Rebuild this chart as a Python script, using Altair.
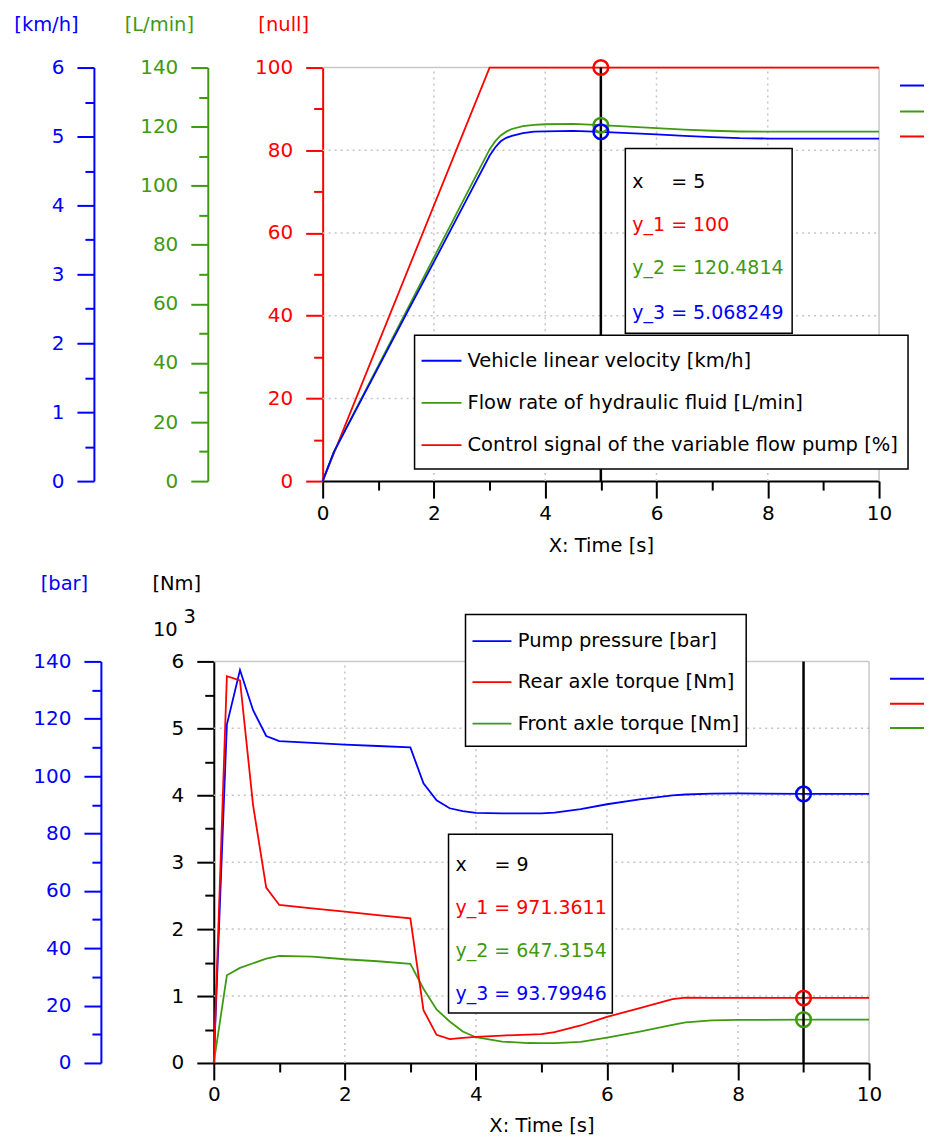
import altair as alt
import pandas as pd

F = "DejaVu Sans"
FS = 19.5      # titles and legend text
FS_TICK = 20   # tick labels
FS_TIP = 19    # readout boxes
BLUE = "#0000ff"
RED = "#ff0000"
GREEN = "#3f9a12"
GRIDC = "#c4c4c4"
FRAMEC = "#c8c8c8"

# ---------------- top panel data ----------------
t_ctrl = [0.0, 3.0, 10.0]
ctrl = [0.0, 100.0, 100.0]
t_top = [0.0, 0.2, 0.5, 1.0, 1.5, 2.0, 2.5, 3.0, 3.1, 3.2, 3.3, 3.4, 3.6, 3.8, 4.0,
         4.5, 5.0, 5.5, 6.0, 6.5, 7.0, 7.5, 8.0, 9.0, 10.0]
flow = [0.0, 9.8, 20.8, 39.1, 57.4, 75.7, 94.0, 112.3, 115.0, 117.0, 118.3, 119.2, 120.2,
        120.6, 120.8, 120.9, 120.48, 120.0, 119.5, 119.0, 118.6, 118.35, 118.3, 118.3, 118.3]
vel = [0.0, 0.42, 0.88, 1.65, 2.42, 3.18, 3.95, 4.72, 4.84, 4.93, 4.98, 5.01, 5.05,
       5.07, 5.075, 5.08, 5.068, 5.05, 5.03, 5.01, 4.99, 4.975, 4.97, 4.97, 4.97]
top_cursor = 5
top_readout = [100, 120.4814, 5.068249]  # y_1 ctrl, y_2 flow, y_3 velocity
top_legend = ["Vehicle linear velocity [km/h]",
              "Flow rate of hydraulic fluid [L/min]",
              "Control signal of the variable flow pump [%]"]

# ---------------- bottom panel data ----------------
t_bot = [0.0, 0.2, 0.4, 0.6, 0.8, 1.0, 1.5, 2.0, 2.5, 3.0, 3.2, 3.4, 3.6, 3.8, 4.0,
         4.4, 4.8, 5.0, 5.2, 5.6, 6.0, 6.5, 7.0, 7.2, 7.6, 8.0, 9.0, 10.0]
pressure = [0.0, 118.0, 137.0, 123.0, 114.0, 112.2, 111.6, 111.0, 110.5, 110.0, 97.5, 91.6,
            88.8, 87.8, 87.2, 87.0, 87.0, 87.0, 87.3, 88.5, 90.2, 91.9, 93.3, 93.6, 93.9,
            94.0, 93.8, 93.8]
rear = [0, 5780, 5716, 3850, 2620, 2360, 2310, 2260, 2210, 2160, 790, 420, 355, 375, 390,
        410, 425, 430, 460, 560, 690, 820, 955, 975, 972, 971.4, 971.4, 971.4]
front = [0, 1310, 1420, 1490, 1560, 1600, 1590, 1550, 1520, 1480, 1110, 800, 620, 470, 385,
         320, 298, 295, 297, 315, 380, 470, 570, 605, 635, 643, 647.3, 647.3]
bot_cursor = 9
bot_readout = [971.3611, 647.3154, 93.79946]  # y_1 rear, y_2 front, y_3 pressure
bot_legend = ["Pump pressure [bar]", "Rear axle torque [Nm]", "Front axle torque [Nm]"]

grid_x = [2, 4, 6, 8]
grid_y_top = [20, 40, 60, 80]
grid_y_bot = [1000, 2000, 3000, 4000, 5000]

ONE = pd.DataFrame({"k": [0]})


def grid_df(xs, ys, ymax):
    rows = [{"x": v, "x2": v, "y": 0, "y2": ymax} for v in xs]
    rows += [{"x": 0, "x2": 10, "y": v, "y2": v} for v in ys]
    return pd.DataFrame(rows)


def frame_df(ymax):
    return pd.DataFrame([{"x": 0, "x2": 10, "y": ymax, "y2": ymax},
                         {"x": 10, "x2": 10, "y": 0, "y2": ymax}])


def x_major(title_y):
    return alt.Axis(orient="bottom", values=[0, 2, 4, 6, 8, 10], tickSize=17, tickWidth=2,
                    tickColor="black", domainColor="black", domainWidth=2,
                    labelColor="black", labelFont=F, labelFontSize=FS_TICK, labelPadding=5,
                    labelFlush=False, labelOverlap=False,
                    title="X: Time [s]", titleFont=F, titleFontSize=FS,
                    titleFontWeight="normal", titleColor="black",
                    titleBaseline="middle", titleY=title_y, grid=False)


X_MINOR = alt.Axis(orient="bottom", values=[1, 3, 5, 7, 9], tickSize=9, tickWidth=2,
                   tickColor="black", labels=False, domain=False, title="", grid=False)


def y_major(color, offset, values, title, title_x, title_y, label_expr=None):
    kw = dict(orient="left", offset=offset, values=values, tickSize=17, tickWidth=2,
              tickColor=color, domainColor=color, domainWidth=2, labelColor=color,
              labelFont=F, labelFontSize=FS_TICK, labelPadding=13, labelOverlap=False,
              title=title, titleColor=color, titleFont=F, titleFontSize=FS,
              titleFontWeight="normal", titleAngle=0, titleAlign="center",
              titleBaseline="middle", titleX=title_x, titleY=title_y, grid=False)
    if label_expr:
        kw["labelExpr"] = label_expr
    return alt.Axis(**kw)


def y_minor(color, offset, values):
    return alt.Axis(orient="left", offset=offset, values=values, tickSize=9, tickWidth=2,
                    tickColor=color, labels=False, domain=False, title="", grid=False)


def txt(x, y, s, color="black", align="left", size=FS):
    return alt.Chart(ONE).mark_text(align=align, baseline="middle", font=F, fontSize=size,
                                    color=color, text=s).encode(x=alt.value(x), y=alt.value(y))


def hline(x1, x2, y, color, w=2):
    return alt.Chart(ONE).mark_rule(color=color, strokeWidth=w).encode(
        x=alt.value(x1), x2=alt.value(x2), y=alt.value(y))


def box(x1, x2, y1, y2):
    return alt.Chart(ONE).mark_rect(fill="white", stroke="black", strokeWidth=1.5).encode(
        x=alt.value(x1), x2=alt.value(x2), y=alt.value(y1), y2=alt.value(y2))


def circle(t, v, ydom, color, axis=None):
    return alt.Chart(pd.DataFrame({"t": [t], "v": [v]})).mark_point(
        shape="circle", filled=False, size=215, strokeWidth=2.5, color=color, opacity=1
    ).encode(x=alt.X("t:Q", scale=XS, axis=None),
             y=alt.Y("v:Q", scale=alt.Scale(domain=ydom), axis=axis))


# ====================== TOP PANEL ======================
XS = alt.Scale(domain=[0, 10], range=[109, 666])
df_top = pd.DataFrame({"t": t_top, "flow": flow, "vel": vel})
df_ctrl = pd.DataFrame({"t": t_ctrl, "ctrl": ctrl})
TY = -43.5

top_layers = [
    alt.Chart(grid_df(grid_x, grid_y_top, 100)).mark_rule(
        color=GRIDC, strokeWidth=1.5, strokeDash=[2, 4]).encode(
        x=alt.X("x:Q", scale=XS, axis=X_MINOR), x2="x2:Q",
        y=alt.Y("y:Q", scale=alt.Scale(domain=[0, 100]),
                axis=y_minor(RED, -109, [10, 30, 50, 70, 90])), y2="y2:Q"),
    alt.Chart(frame_df(100)).mark_rule(color=FRAMEC, strokeWidth=1.5).encode(
        x=alt.X("x:Q", scale=XS, axis=None), x2="x2:Q",
        y=alt.Y("y:Q", scale=alt.Scale(domain=[0, 100]), axis=None), y2="y2:Q"),
    alt.Chart(df_ctrl).mark_line(color=RED, strokeWidth=1.8).encode(
        x=alt.X("t:Q", scale=XS, axis=x_major(64)),
        y=alt.Y("ctrl:Q", scale=alt.Scale(domain=[0, 100]),
                axis=y_major(RED, -109, list(range(0, 101, 20)), "[null]", -39.5, TY))),
    alt.Chart(df_top).mark_line(color=GREEN, strokeWidth=1.8).encode(
        x=alt.X("t:Q", scale=XS, axis=None),
        y=alt.Y("flow:Q", scale=alt.Scale(domain=[0, 140]),
                axis=y_major(GREEN, 6, list(range(0, 141, 20)), "[L/min]", -49, TY))),
    alt.Chart(df_top).mark_line(color=BLUE, strokeWidth=1.8).encode(
        x=alt.X("t:Q", scale=XS, axis=None),
        y=alt.Y("vel:Q", scale=alt.Scale(domain=[0, 6]),
                axis=y_major(BLUE, 120, list(range(0, 7)), "[km/h]", -48, TY))),
    alt.Chart(pd.DataFrame({"x": [top_cursor], "y": [0], "y2": [100]})).mark_rule(
        color="black", strokeWidth=2.5).encode(
        x=alt.X("x:Q", scale=XS, axis=None),
        y=alt.Y("y:Q", scale=alt.Scale(domain=[0, 100]), axis=None), y2="y2:Q"),
    circle(top_cursor, top_readout[0], [0, 100], RED),
    circle(top_cursor, top_readout[1], [0, 140], GREEN,
           y_minor(GREEN, 6, list(range(10, 140, 20)))),
    circle(top_cursor, top_readout[2], [0, 6], BLUE,
           y_minor(BLUE, 120, [0.5, 1.5, 2.5, 3.5, 4.5, 5.5])),
    # readout box
    box(412, 579, 81, 266),
    txt(419, 115, "x", size=FS_TIP), txt(458, 115, "= %g" % top_cursor, size=FS_TIP),
    txt(419, 158, "y_1 = %g" % top_readout[0], RED, size=FS_TIP),
    txt(419, 201, "y_2 = %s" % top_readout[1], GREEN, size=FS_TIP),
    txt(419, 246, "y_3 = %s" % top_readout[2], BLUE, size=FS_TIP),
    # legend box
    box(201, 695, 268, 402),
]
for lab, col, yy in zip(top_legend, [BLUE, GREEN, RED], [293.5, 335.7, 378]):
    top_layers.append(hline(208, 248, yy, col, 1.8))
    top_layers.append(txt(254, yy, lab))
for col, yy in zip([BLUE, GREEN, RED], [18, 44, 69]):
    top_layers.append(hline(687, 711, yy, col, 2))

top = alt.layer(*top_layers).properties(width=666, height=414).resolve_scale(
    x="shared", y="independent").resolve_axis(x="independent", y="independent")

# ====================== BOTTOM PANEL ======================
XS = alt.Scale(domain=[0, 10])
df_bot = pd.DataFrame({"t": t_bot, "pressure": pressure, "rear": rear, "front": front})
NM = [0, 6000]

bot_layers = [
    alt.Chart(grid_df(grid_x, grid_y_bot, 6000)).mark_rule(
        color=GRIDC, strokeWidth=1.5, strokeDash=[2, 4]).encode(
        x=alt.X("x:Q", scale=XS, axis=X_MINOR), x2="x2:Q",
        y=alt.Y("y:Q", scale=alt.Scale(domain=NM),
                axis=y_minor("black", 0, list(range(500, 6000, 1000)))), y2="y2:Q"),
    alt.Chart(frame_df(6000)).mark_rule(color=FRAMEC, strokeWidth=1.5).encode(
        x=alt.X("x:Q", scale=XS, axis=None), x2="x2:Q",
        y=alt.Y("y:Q", scale=alt.Scale(domain=NM), axis=None), y2="y2:Q"),
    alt.Chart(df_bot).mark_line(color=BLUE, strokeWidth=1.8).encode(
        x=alt.X("t:Q", scale=XS, axis=None),
        y=alt.Y("pressure:Q", scale=alt.Scale(domain=[0, 140]),
                axis=y_major(BLUE, 113, list(range(0, 141, 20)), "[bar]", -37, -78))),
    alt.Chart(df_bot).mark_line(color=GREEN, strokeWidth=1.8).encode(
        x=alt.X("t:Q", scale=XS, axis=None),
        y=alt.Y("front:Q", scale=alt.Scale(domain=NM), axis=None)),
    alt.Chart(df_bot).mark_line(color=RED, strokeWidth=1.8).encode(
        x=alt.X("t:Q", scale=XS, axis=x_major(63)),
        y=alt.Y("rear:Q", scale=alt.Scale(domain=NM),
                axis=y_major("black", 0, list(range(0, 6001, 1000)), "[Nm]", -37.5, -78,
                             "datum.value / 1000"))),
    alt.Chart(pd.DataFrame({"x": [bot_cursor], "y": [0], "y2": [6000]})).mark_rule(
        color="black", strokeWidth=2.5).encode(
        x=alt.X("x:Q", scale=XS, axis=None),
        y=alt.Y("y:Q", scale=alt.Scale(domain=NM), axis=None), y2="y2:Q"),
    circle(bot_cursor, bot_readout[2], [0, 140], BLUE,
           y_minor(BLUE, 113, list(range(10, 140, 20)))),
    circle(bot_cursor, bot_readout[0], NM, RED),
    circle(bot_cursor, bot_readout[1], NM, GREEN),
    txt(-48.5, -31.3, "10", align="center"),
    txt(-24.2, -44.3, "3", align="center"),
    box(235, 399, 173, 352),
    txt(242, 204, "x", size=FS_TIP), txt(281, 204, "= %g" % bot_cursor, size=FS_TIP),
    txt(242, 247.3, "y_1 = %s" % bot_readout[0], RED, size=FS_TIP),
    txt(242, 289.7, "y_2 = %s" % bot_readout[1], GREEN, size=FS_TIP),
    txt(242, 333, "y_3 = %s" % bot_readout[2], BLUE, size=FS_TIP),
    box(252, 533, -47, 85),
]
for lab, col, yy in zip(bot_legend, [BLUE, RED, GREEN], [-20.3, 20.7, 62.3]):
    bot_layers.append(hline(259, 298, yy, col, 1.8))
    bot_layers.append(txt(304.3, yy, lab))
for col, yy in zip([BLUE, RED, GREEN], [17.3, 42.3, 66.7]):
    bot_layers.append(hline(677, 711, yy, col, 2))

bottom = alt.layer(*bot_layers).properties(width=656, height=402).resolve_scale(
    x="shared", y="independent").resolve_axis(x="independent", y="independent")

chart = alt.vconcat(top, bottom, spacing=18.5).properties(
    padding={"left": 5, "top": 5, "right": 3, "bottom": 2}
).configure(font=F).configure_view(strokeWidth=0)

chart.save("out.html", embed_options={"renderer": "svg", "actions": False})
